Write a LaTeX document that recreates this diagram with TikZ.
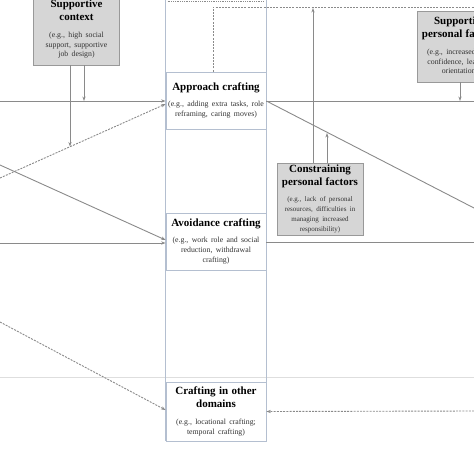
\documentclass[tikz,border=0pt]{standalone}
\usepackage{fontspec}
\setmainfont{Liberation Serif}
\usetikzlibrary{positioning,calc,arrows.meta}

\definecolor{boxline}{HTML}{B4BFD0}
\definecolor{arrowgray}{HTML}{8A8A8A}
\newcommand{\ttl}[1]{{\fontsize{11}{12.8}\selectfont\bfseries #1\par}\vspace{6.5pt}}
\newcommand{\eg}[2][7.8]{{\fontsize{#1}{9.9}\selectfont\color{black!80} #2\par}}

\tikzset{
  stage/.style={draw=boxline, fill=white, line width=0.8pt, minimum width=100pt,
    inner sep=0pt, text width=99pt, align=center},
  factor/.style={draw=black!40, fill=black!16, line width=0.8pt, minimum width=86pt,
    minimum height=71pt, inner sep=0pt, text width=85pt, align=center},
  line/.style={draw=arrowgray, line width=0.9pt},
  link/.style={line, -{Stealth[length=4.5pt,width=3.2pt]}},
  dlink/.style={link, dash pattern=on 2pt off 1.2pt},
  dline/.style={line, dash pattern=on 2pt off 1.2pt},
}

\begin{document}
\begin{tikzpicture}[x=1pt,y=-1pt]
    \useasboundingbox (0,0) rectangle (474,469);
    \clip (0,0) rectangle (474,469);
    % free ends at the edges of the crop
    \coordinate (top) at (0,-2);
    \coordinate (lA) at (0,101);
    \coordinate (lB) at (0,178);
    \coordinate (lC) at (0,165);
    \coordinate (lD) at (0,243);
    \coordinate (lE) at (0,322);
    \coordinate (rA) at (474,101);
    \coordinate (rB) at (474,208);
    \coordinate (rC) at (474,242);
    \coordinate (rD) at (474,411);
    \coordinate (rE) at (474,7);
    \coordinate (hitB) at (70,146.5);
    \coordinate (hitR) at (327,133);
    \draw[black!13] (0,377) -- (474,377);
    % stages column
    \node[stage, minimum height=57pt] (appr) at (216,100.5)
      {\ttl{Approach crafting}\eg{(e.g., adding extra tasks, role\\reframing, caring moves)}};
    \node[stage, minimum height=57pt] (avoid) at (216,241.5)
      {\ttl{Avoidance crafting}\eg{(e.g., work role and social\\reduction, withdrawal\\crafting)}};
    \node[stage, minimum height=59pt] (other) at (216,411.5)
      {\ttl{Crafting in other\\domains}\eg{(e.g., locational crafting;\\temporal crafting)}};
    \draw[boxline, line width=0.8pt] (appr.west |- top) -- (other.south west);
    \draw[boxline, line width=0.8pt] (appr.east |- top) -- (other.south east);
    \draw[arrowgray, densely dotted, line width=0.8pt] ([xshift=2pt]appr.west |- 0,1) -- ([xshift=-2pt]appr.east |- 0,1);
    % factors
    \node[factor] (supctx) at (76.5,29.5)
      {\ttl{Supportive\\context}\eg{(e.g., high social\\support, supportive\\job design)}};
    \node[factor] (supper) at (460,46.5)
      {\ttl{Supportive\\personal factors}\eg{(e.g., increased self-\\confidence, learning\\orientation)}};
    \node[factor, minimum height=72pt] (constr) at (320,199)
      {\ttl{Constraining\\personal factors}\eg[7]{(e.g., lack of personal\\resources, difficulties in\\managing increased\\responsibility)}};
    % left side
    \draw[link] (lA) -- (lA -| appr.west);
    \draw[dlink] (lB) -- ([yshift=-3.5pt]appr.west);
    \draw[link] (lC) -- ([yshift=1.5pt]avoid.west);
    \draw[link] (lD) -- (lD -| avoid.west);
    \draw[dlink] (lE) -- ([yshift=1.5pt]other.west);
    \draw[link] ([xshift=-6.5pt]supctx.south) -- (hitB);
    \draw[link] ([xshift=7.5pt]supctx.south) -- ([xshift=7.5pt]supctx.south |- lA);
    % right side
    \draw[line] (rA -| appr.east) -- (rA);
    \draw[line] (rA -| appr.east) -- (rB);
    \draw[line] (rC -| avoid.east) -- (rC);
    \draw[dlink] (rD) -- (other.east);
    \draw[dline] ([xshift=-3pt]appr.north) |- (rE);
    \draw[link] (constr.north -| 313,0) -- (313,8);
    \draw[link] (constr.north -| hitR) -- (hitR);
    \draw[link] (supper.south) -- (supper.south |- rA);
\end{tikzpicture}
\end{document}
